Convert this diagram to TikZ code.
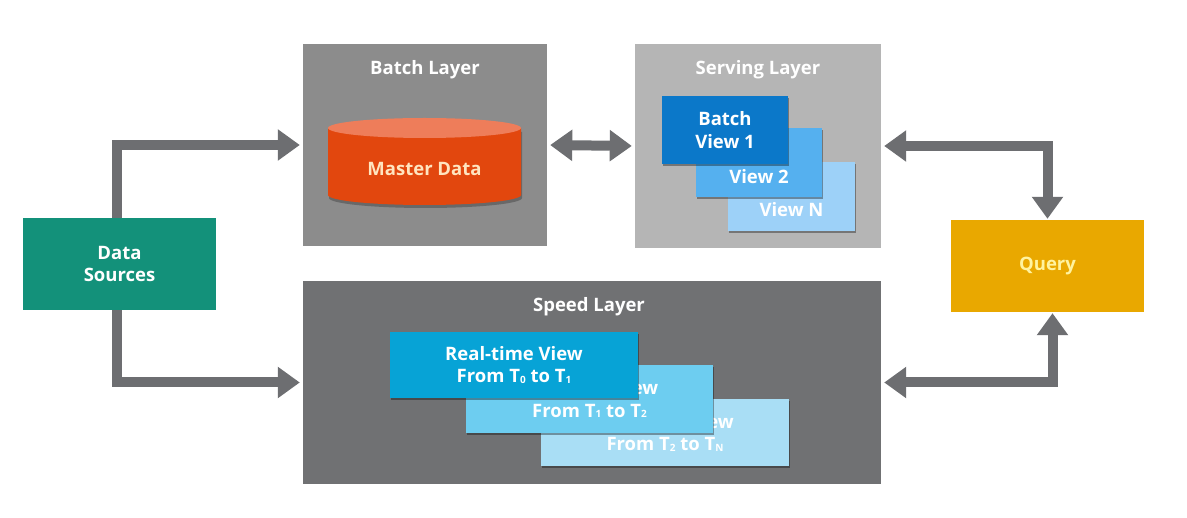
\documentclass[tikz,border=0pt]{standalone}
\usepackage{fontspec}
\setmainfont{Open Sans}
\usetikzlibrary{arrows.meta,shadows}
\definecolor{teal1}{HTML}{13917A}
\definecolor{batchgray}{HTML}{8C8C8C}
\definecolor{servgray}{HTML}{B5B5B5}
\definecolor{speedgray}{HTML}{707173}
\definecolor{arrgray}{HTML}{6D6E71}
\definecolor{masterred}{HTML}{E2470E}
\definecolor{mastertop}{HTML}{EE7D5A}
\definecolor{bv1}{HTML}{0B78C9}
\definecolor{bv2}{HTML}{55B0EF}
\definecolor{bv3}{HTML}{9DD1F8}
\definecolor{rt1}{HTML}{07A3D6}
\definecolor{rt2}{HTML}{6DCDF0}
\definecolor{rt3}{HTML}{A9DEF5}
\definecolor{queryc}{HTML}{E9A800}
\definecolor{querytxt}{HTML}{FFF3A0}
\definecolor{mastertxt}{HTML}{FFE5C0}
\newcommand{\smallsub}[1]{\raisebox{-0.5pt}{\fontsize{10}{10}\selectfont #1}}
\begin{document}
\begin{tikzpicture}[x=1pt,y=-1pt,
  box/.style={rectangle, inner sep=0pt, draw=none, align=center, text=white,
    font=\bfseries\fontsize{18.5}{22.5}\selectfont},
  layer/.style={box},
  view/.style={box, drop shadow={shadow xshift=1pt, shadow yshift=-2pt, opacity=0.35, fill=black}},
  title/.style={text=white, font=\bfseries\fontsize{18.5}{22}\selectfont, inner sep=0pt},
  arr/.style={draw=arrgray, line width=10pt,
    -{Triangle[width=30pt,length=22pt]}},
  darr/.style={draw=arrgray, line width=10pt,
    {Triangle[width=30pt,length=22pt]}-{Triangle[width=30pt,length=22pt]}}
]
\useasboundingbox (0,0) rectangle (1187,518);
\fill[white] (0,0) rectangle (1187,518);

% layers
\node[layer, fill=batchgray, minimum width=244pt, minimum height=202pt] (batch) at (425,145) {};
\node[layer, fill=servgray, minimum width=246pt, minimum height=204pt] (serving) at (758,146) {};
\node[layer, fill=speedgray, minimum width=578pt, minimum height=203pt] (speed) at (592,382.5) {};
\node[title] (batcht) at (425,70) {Batch Layer};
\node[title] (servt) at (758,70) {Serving Layer};
\node[title] (speedt) at (589,307) {Speed Layer};

% data sources and query
\node[box, fill=teal1, minimum width=193pt, minimum height=92pt] (ds) at (119.5,264) {Data\\Sources};
\node[box, fill=queryc, text=querytxt, minimum width=193pt, minimum height=92pt] (query) at (1047.5,266) {Query};

% master data cylinder
\fill[black, opacity=0.25] (329,132) -- (329,198) arc[start angle=180, end angle=360, x radius=96.5pt, y radius=10pt] -- (522,132) -- cycle;
\fill[masterred] (328,128) -- (328,195) arc[start angle=180, end angle=360, x radius=96.5pt, y radius=10pt] -- (521,128) -- cycle;
\fill[mastertop] (424.5,128) ellipse[x radius=96.5pt, y radius=10pt];
\node[title, text=mastertxt] (master) at (424.5,169) {Master Data};

% batch views
\node[view, fill=bv3, minimum width=127pt, minimum height=69pt] (vN) at (791.5,196.5) {};
\node[title] (vNt) at (791.5,210) {View N};
\node[view, fill=bv2, minimum width=126pt, minimum height=69pt] (v2) at (759,162.5) {};
\node[title] (v2t) at (759,177) {View 2};
\node[view, fill=bv1, minimum width=126pt, minimum height=68pt] (v1) at (725,130) {Batch\\View 1};

% real-time views
\node[view, fill=rt3, minimum width=248pt, minimum height=67pt] (r3) at (665,432.5) {Real-time View\\From T\smallsub{2} to T\smallsub{N}};
\node[view, fill=rt2, minimum width=247pt, minimum height=68pt] (r2) at (589.5,399) {Real-time View\\From T\smallsub{1} to T\smallsub{2}};
\node[view, fill=rt1, minimum width=248pt, minimum height=66pt] (r1) at (514,365) {Real-time View\\From T\smallsub{0} to T\smallsub{1}};

% connectors
\draw[arr, shorten >=3pt] ([xshift=-2.5pt]ds.north) |- (batch.west);
\draw[arr, shorten >=3pt] ([xshift=-2.5pt]ds.south) |- (speed.west);
\draw[darr, shorten <=3pt, shorten >=3pt] (batch.east) -- (serving.west);
\draw[darr, shorten <=3pt, shorten >=3pt] (serving.east) -| ([yshift=-2pt]query.north);
\draw[darr, shorten <=3pt, shorten >=3pt] (speed.east) -| ([xshift=5pt,yshift=2pt]query.south);
\end{tikzpicture}
\end{document}
